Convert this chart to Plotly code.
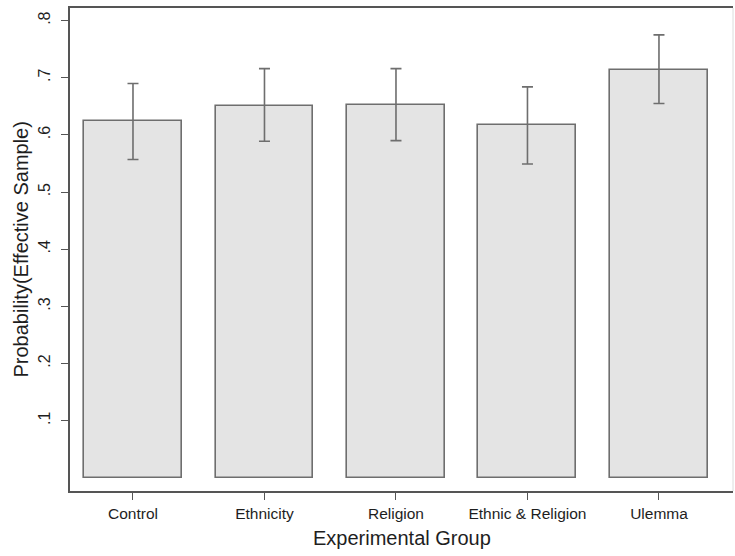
import plotly.graph_objects as go

# Experimental groups and estimated probabilities with 95% CI bounds
groups = ["Control", "Ethnicity", "Religion", "Ethnic & Religion", "Ulemma"]
prob = [0.625, 0.651, 0.653, 0.617, 0.714]
ci_upper = [0.690, 0.716, 0.716, 0.684, 0.775]
ci_lower = [0.557, 0.589, 0.590, 0.549, 0.655]

y_tickvals = [0.1, 0.2, 0.3, 0.4, 0.5, 0.6, 0.7, 0.8]
y_ticktext = [".1", ".2", ".3", ".4", ".5", ".6", ".7", ".8"]

x_title = "Experimental Group"
y_title = "Probability(Effective Sample)"

err_plus = [u - p for u, p in zip(ci_upper, prob)]
err_minus = [p - l for p, l in zip(prob, ci_lower)]

FONT = "Liberation Sans, Arial, sans-serif"
AXIS = "#555555"
EDGE = "#6e6e6e"
TEXT = "#1e1e1e"

fig = go.Figure(
    go.Bar(
        x=list(range(len(groups))),
        y=prob,
        width=0.745,
        marker=dict(color="#e4e4e4", line=dict(color=EDGE, width=1.6)),
        error_y=dict(
            type="data",
            symmetric=False,
            array=err_plus,
            arrayminus=err_minus,
            color=EDGE,
            thickness=1.6,
            width=5.5,
        ),
        showlegend=False,
    )
)

fig.update_layout(
    width=735,
    height=556,
    margin=dict(l=70, r=2, t=8, b=65),
    paper_bgcolor="white",
    plot_bgcolor="white",
    font=dict(family=FONT, color=TEXT),
    bargap=0,
    xaxis=dict(
        range=[-0.479, 4.563],
        tickmode="array",
        tickvals=list(range(len(groups))),
        ticktext=groups,
        showgrid=False,
        zeroline=False,
        showline=True,
        linecolor=AXIS,
        linewidth=2,
        mirror=True,
        ticks="outside",
        ticklen=7,
        tickwidth=1,
        tickcolor=AXIS,
        tickfont=dict(size=15.5, family=FONT, color=TEXT),
    ),
    yaxis=dict(
        range=[-0.023, 0.822],
        tickmode="array",
        tickvals=y_tickvals,
        ticktext=y_ticktext,
        tickangle=-90,
        showgrid=False,
        zeroline=False,
        showline=True,
        linecolor=AXIS,
        linewidth=2,
        ticks="outside",
        ticklen=7,
        tickwidth=1,
        tickcolor=AXIS,
        ticklabelstandoff=5,
        tickfont=dict(size=16, family=FONT, color=TEXT),
    ),
    shapes=[
        dict(
            type="line", xref="paper", yref="paper",
            x0=1, x1=1, y0=0, y1=1,
            line=dict(color="#dcdcdc", width=1),
        )
    ],
    annotations=[
        dict(
            text=x_title, xref="paper", yref="paper",
            x=0.5, y=0, yshift=-47, yanchor="middle",
            showarrow=False, font=dict(size=20, family=FONT, color=TEXT),
        ),
        dict(
            text=y_title, xref="paper", yref="paper",
            x=0, xshift=-50, y=0.5, xanchor="center",
            textangle=-90, showarrow=False,
            font=dict(size=20, family=FONT, color=TEXT),
        ),
    ],
)

fig.write_html("out.html")
